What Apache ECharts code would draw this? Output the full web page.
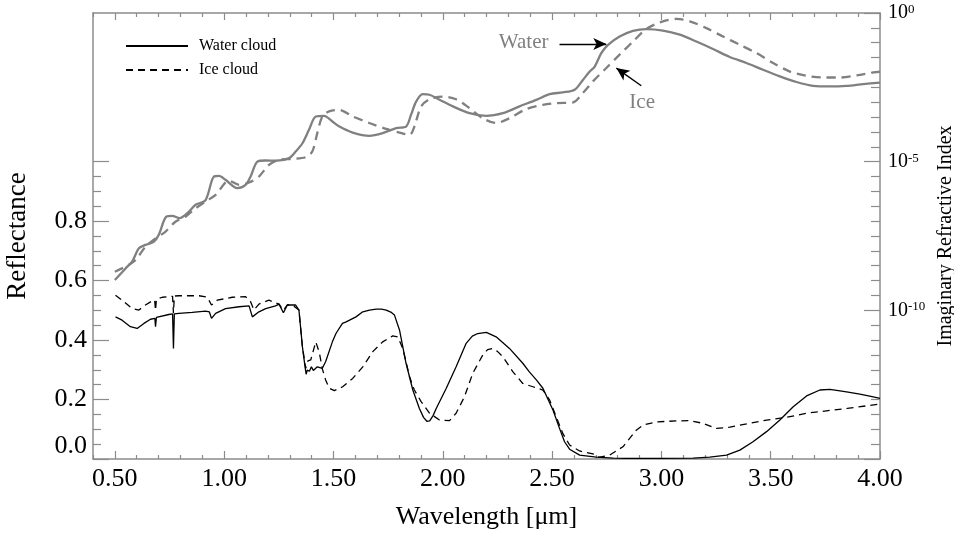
<!DOCTYPE html>
<html>
<head>
<meta charset="utf-8">
<script src="https://cdn.jsdelivr.net/npm/echarts@6/dist/echarts.min.js"></script>
<style>html,body{margin:0;padding:0;background:#fff;}#c{width:954px;height:533px;}</style>
</head>
<body>
<div id="c"></div>
<script>
// ---- Data ----
// Reflectance of a water cloud [wavelength µm, reflectance]
const waterCloudRefl = [[0.503,0.478],[0.533,0.467],[0.571,0.445],[0.602,0.439],[0.633,0.456],[0.663,0.470],[0.683,0.473],[0.686,0.445],[0.690,0.476],[0.747,0.486],[0.764,0.488],[0.768,0.372],[0.772,0.488],[0.793,0.490],[0.854,0.493],[0.915,0.497],[0.932,0.495],[0.942,0.473],[0.961,0.490],[1.006,0.506],[1.068,0.512],[1.114,0.515],[1.129,0.478],[1.159,0.495],[1.190,0.506],[1.235,0.515],[1.251,0.521],[1.271,0.492],[1.289,0.518],[1.327,0.518],[1.342,0.501],[1.358,0.377],[1.370,0.310],[1.375,0.285],[1.380,0.299],[1.390,0.295],[1.399,0.310],[1.408,0.298],[1.417,0.300],[1.426,0.310],[1.435,0.308],[1.449,0.305],[1.464,0.327],[1.495,0.394],[1.512,0.423],[1.541,0.456],[1.558,0.461],[1.603,0.478],[1.634,0.495],[1.665,0.501],[1.695,0.504],[1.720,0.504],[1.741,0.501],[1.765,0.493],[1.779,0.484],[1.802,0.434],[1.832,0.322],[1.863,0.232],[1.893,0.170],[1.912,0.140],[1.927,0.127],[1.940,0.128],[1.955,0.145],[1.970,0.170],[2.016,0.238],[2.061,0.310],[2.107,0.389],[2.135,0.413],[2.160,0.422],[2.199,0.426],[2.244,0.411],[2.305,0.372],[2.366,0.322],[2.396,0.293],[2.428,0.266],[2.458,0.238],[2.504,0.165],[2.534,0.103],[2.557,0.058],[2.580,0.033],[2.626,0.013],[2.702,0.006],[2.780,0.003],[2.840,0.002],[2.993,0.002],[3.145,0.003],[3.221,0.006],[3.298,0.013],[3.359,0.030],[3.419,0.058],[3.481,0.092],[3.542,0.131],[3.603,0.176],[3.664,0.212],[3.725,0.232],[3.771,0.234],[3.847,0.226],[3.908,0.218],[3.969,0.209],[4.000,0.204]];

// Reflectance of an ice cloud [wavelength µm, reflectance]
const iceCloudRefl = [[0.503,0.551],[0.541,0.529],[0.579,0.506],[0.610,0.501],[0.640,0.518],[0.671,0.532],[0.682,0.535],[0.686,0.500],[0.690,0.537],[0.717,0.544],[0.764,0.547],[0.768,0.490],[0.772,0.548],[0.793,0.549],[0.885,0.549],[0.923,0.544],[0.942,0.518],[0.968,0.534],[1.037,0.544],[1.098,0.546],[1.121,0.529],[1.136,0.501],[1.159,0.521],[1.205,0.534],[1.251,0.521],[1.271,0.500],[1.289,0.518],[1.312,0.518],[1.342,0.501],[1.358,0.377],[1.373,0.305],[1.383,0.330],[1.396,0.333],[1.419,0.394],[1.435,0.359],[1.449,0.303],[1.464,0.266],[1.481,0.238],[1.504,0.230],[1.542,0.243],[1.588,0.271],[1.634,0.310],[1.680,0.361],[1.725,0.394],[1.771,0.414],[1.794,0.411],[1.817,0.372],[1.848,0.277],[1.870,0.232],[1.901,0.193],[1.939,0.154],[1.985,0.131],[2.031,0.129],[2.061,0.154],[2.099,0.209],[2.137,0.288],[2.183,0.350],[2.205,0.368],[2.229,0.372],[2.250,0.362],[2.275,0.344],[2.321,0.293],[2.366,0.254],[2.412,0.243],[2.458,0.232],[2.489,0.198],[2.519,0.142],[2.549,0.086],[2.580,0.047],[2.626,0.027],[2.687,0.017],[2.717,0.006],[2.763,0.013],[2.824,0.041],[2.885,0.097],[2.916,0.114],[2.977,0.125],[3.069,0.128],[3.130,0.129],[3.190,0.120],[3.252,0.103],[3.313,0.107],[3.404,0.120],[3.481,0.131],[3.572,0.140],[3.664,0.154],[3.755,0.162],[3.850,0.170],[4.000,0.185]];

// Imaginary refractive index of water [wavelength µm, log10(k)]
const waterLogK = [[0.500,-8.98],[0.549,-8.59],[0.579,-8.36],[0.610,-7.91],[0.640,-7.80],[0.679,-7.69],[0.701,-7.46],[0.735,-6.85],[0.762,-6.82],[0.796,-6.90],[0.839,-6.68],[0.869,-6.45],[0.915,-6.29],[0.953,-5.50],[0.976,-5.48],[1.006,-5.61],[1.060,-5.89],[1.098,-5.78],[1.121,-5.50],[1.152,-5.00],[1.190,-4.96],[1.235,-4.97],[1.297,-4.88],[1.327,-4.66],[1.358,-4.38],[1.388,-3.93],[1.419,-3.48],[1.457,-3.46],[1.495,-3.65],[1.527,-3.82],[1.588,-4.02],[1.664,-4.13],[1.725,-4.04],[1.787,-3.87],[1.832,-3.82],[1.855,-3.42],[1.878,-2.98],[1.908,-2.73],[1.939,-2.75],[1.985,-2.92],[2.046,-3.14],[2.122,-3.37],[2.199,-3.46],[2.275,-3.37],[2.351,-3.14],[2.428,-2.92],[2.489,-2.73],[2.549,-2.67],[2.603,-2.58],[2.641,-2.25],[2.672,-1.97],[2.695,-1.80],[2.725,-1.35],[2.756,-1.07],[2.809,-0.79],[2.870,-0.60],[2.931,-0.54],[3.007,-0.59],[3.084,-0.73],[3.160,-0.96],[3.236,-1.21],[3.313,-1.48],[3.389,-1.68],[3.465,-1.91],[3.542,-2.13],[3.618,-2.32],[3.694,-2.45],[3.771,-2.47],[3.847,-2.45],[3.923,-2.39],[4.000,-2.34]];

// Imaginary refractive index of ice [wavelength µm, log10(k)]
const iceLogK = [[0.500,-8.70],[0.549,-8.53],[0.594,-8.31],[0.640,-7.86],[0.686,-7.58],[0.732,-7.35],[0.777,-7.02],[0.823,-6.85],[0.869,-6.57],[0.915,-6.34],[0.961,-6.12],[1.022,-5.64],[1.068,-5.78],[1.114,-5.70],[1.159,-5.50],[1.205,-5.11],[1.251,-4.94],[1.312,-4.91],[1.373,-4.85],[1.403,-4.66],[1.426,-4.04],[1.449,-3.48],[1.480,-3.31],[1.526,-3.26],[1.588,-3.48],[1.664,-3.70],[1.741,-3.90],[1.802,-4.02],[1.848,-4.10],[1.870,-3.82],[1.901,-3.14],[1.939,-2.90],[2.000,-2.81],[2.061,-2.90],[2.122,-3.20],[2.183,-3.54],[2.244,-3.70],[2.305,-3.54],[2.382,-3.23],[2.458,-3.09],[2.519,-3.03],[2.595,-3.01],[2.641,-2.69],[2.687,-2.30],[2.748,-1.85],[2.809,-1.40],[2.870,-0.96],[2.931,-0.54],[2.992,-0.32],[3.069,-0.20],[3.130,-0.28],[3.206,-0.51],[3.282,-0.79],[3.359,-1.07],[3.435,-1.35],[3.511,-1.68],[3.588,-1.97],[3.664,-2.11],[3.740,-2.17],[3.817,-2.17],[3.893,-2.10],[3.969,-2.00],[4.000,-1.97]];

// Tick values
const xMajorTicks = [0.5,1.0,1.5,2.0,2.5,3.0,3.5,4.0];
const xMinorTicks = [0.4,0.6,0.7,0.8,0.9,1.1,1.2,1.3,1.4,1.6,1.7,1.8,1.9,2.1,2.2,2.3,2.4,2.6,2.7,2.8,2.9,3.1,3.2,3.3,3.4,3.6,3.7,3.8,3.9];
const reflMajorTicks = [0,0.2,0.4,0.6,0.8,1.0];
const reflLabels = [0,0.2,0.4,0.6,0.8];
const reflMinorTicks = [0.05,0.1,0.15,0.25,0.3,0.35,0.45,0.5,0.55,0.65,0.7,0.75,0.85,0.9,0.95];
const kMajorExp = [0,-5,-10,-15];
const kLabelExp = [0,-5,-10];
const kMinorExp = [-0.5,-1,-1.5,-2,-2.5,-3,-3.5,-4,-4.5,-5.5,-6,-6.5,-7,-7.5,-8,-8.5,-9,-9.5,-10.5,-11,-11.5,-12,-12.5,-13,-13.5,-14,-14.5];

// Annotation anchors [wavelength, log10(k)]
const waterArrow = [[2.534,-1.044],[2.748,-1.044]];
const iceArrow = [[2.908,-2.448],[2.794,-1.852]];
const waterTextPos = [2.370,-0.99];
const iceTextPos = [2.912,-3.02];

// ---- Build ----
const p10 = e => Math.pow(10, e);
const toK = arr => arr.map(d => [d[0], p10(d[1])]);
const FONT = 'Liberation Serif';
const AX = '#8c8c8c';
const axLine = {show:true, lineStyle:{color:AX, width:1.5}};
const noLine = {show:false};

const chart = echarts.init(document.getElementById('c'), null, {renderer:'canvas'});
const xBase = {type:'value', min:0.4, max:4.0, splitLine:{show:false}};
const yR = {type:'value', min:0, max:1.5, splitLine:{show:false}};
const yK = {type:'log', logBase:10, min:1e-15, max:1, splitLine:{show:false}};

const option = {
  animation:false,
  backgroundColor:'#fff',
  grid:{left:93, right:74, top:13, bottom:74, containLabel:false, outerBoundsMode:'none'},
  legend:{
    data:['Water cloud','Ice cloud'],
    orient:'vertical', left:120, top:33,
    itemWidth:62, itemHeight:14, itemGap:8,
    itemStyle:{opacity:0},
    textStyle:{fontFamily:FONT, fontSize:16, color:'#000', padding:[0,0,0,6]}
  },
  xAxis:[
    Object.assign({}, xBase, {position:'bottom', axisLine:axLine,
      axisTick:{show:true, inside:true, length:8, customValues:xMajorTicks, lineStyle:{color:AX, width:1.2}},
      axisLabel:{show:true, customValues:xMajorTicks, formatter:v=>v.toFixed(2), margin:7, fontFamily:FONT, fontSize:26, color:'#000'},
      name:'Wavelength [\u03bcm]', nameLocation:'middle', nameGap:45,
      nameTextStyle:{fontFamily:FONT, fontSize:26, color:'#000'}}),
    Object.assign({}, xBase, {position:'bottom', axisLine:noLine,
      axisTick:{show:true, inside:true, length:4, customValues:xMinorTicks, lineStyle:{color:AX, width:1.2}},
      axisLabel:{show:false}}),
    Object.assign({}, xBase, {position:'top', axisLine:axLine,
      axisTick:{show:true, inside:true, length:7, customValues:xMajorTicks, lineStyle:{color:AX, width:1.2}},
      axisLabel:{show:false}}),
    Object.assign({}, xBase, {position:'top', axisLine:noLine,
      axisTick:{show:true, inside:true, length:4, customValues:xMinorTicks, lineStyle:{color:AX, width:1.2}},
      axisLabel:{show:false}})
  ],
  yAxis:[
    Object.assign({}, yR, {position:'left', axisLine:axLine,
      axisTick:{show:true, inside:true, length:16, customValues:reflMajorTicks, lineStyle:{color:AX, width:1.2}},
      axisLabel:{show:true, customValues:reflLabels, formatter:v=>v.toFixed(1), margin:6, fontFamily:FONT, fontSize:26, color:'#000', verticalAlignMinLabel:'bottom'},
      name:'Reflectance', nameLocation:'middle', nameGap:62,
      nameTextStyle:{fontFamily:FONT, fontSize:27, color:'#000'}}),
    Object.assign({}, yR, {position:'left', axisLine:noLine,
      axisTick:{show:true, inside:true, length:8, customValues:reflMinorTicks, lineStyle:{color:AX, width:1.2}},
      axisLabel:{show:false}}),
    Object.assign({}, yK, {position:'right', axisLine:axLine,
      axisTick:{show:true, inside:true, length:16, customValues:kMajorExp.map(p10), lineStyle:{color:AX, width:1.2}},
      axisLabel:{show:true, customValues:kLabelExp.map(p10), margin:8,
        formatter:v=>'{b|10}{s|' + Math.round(Math.log10(v)) + '}',
        rich:{b:{fontFamily:FONT, fontSize:20, color:'#000'}, s:{fontFamily:FONT, fontSize:13, color:'#000', verticalAlign:'top'}}},
      name:'Imaginary Refractive Index', nameLocation:'middle', nameGap:52, nameRotate:90,
      nameTextStyle:{fontFamily:FONT, fontSize:20, color:'#000'}}),
    Object.assign({}, yK, {position:'right', axisLine:noLine,
      axisTick:{show:true, inside:true, length:9, customValues:kMinorExp.map(p10), lineStyle:{color:AX, width:1.2}},
      axisLabel:{show:false}})
  ],
  series:[
    {name:'Water k', type:'line', xAxisIndex:0, yAxisIndex:2, data:toK(waterLogK), showSymbol:false, symbol:'none', smooth:0.3,
      lineStyle:{color:'#808080', width:2.3}, z:3,
      markLine:{silent:true, symbol:['none','arrow'], symbolSize:[9,13], label:{show:false},
        lineStyle:{color:'#000', width:1.4, type:'solid'},
        data:[
          [{coord:[waterArrow[0][0], p10(waterArrow[0][1])]},{coord:[waterArrow[1][0], p10(waterArrow[1][1])]}],
          [{coord:[iceArrow[0][0], p10(iceArrow[0][1])]},{coord:[iceArrow[1][0], p10(iceArrow[1][1])]}]
        ]},
      markPoint:{silent:true, symbol:'circle', symbolSize:0,
        label:{show:true, position:'inside', fontFamily:FONT, fontSize:21, color:'#808080'},
        data:[
          {coord:[waterTextPos[0], p10(waterTextPos[1])], value:'Water', label:{formatter:'Water'}},
          {coord:[iceTextPos[0], p10(iceTextPos[1])], value:'Ice', label:{formatter:'Ice'}}
        ]}
    },
    {name:'Ice k', type:'line', xAxisIndex:0, yAxisIndex:2, data:toK(iceLogK), showSymbol:false, symbol:'none', smooth:0.3,
      lineStyle:{color:'#808080', width:2.3, type:[9,6]}, z:3},
    {name:'Water cloud', type:'line', xAxisIndex:0, yAxisIndex:0, data:waterCloudRefl, showSymbol:false, symbol:'none',
      lineStyle:{color:'#000', width:1.3}, itemStyle:{color:'#000'}, z:4},
    {name:'Ice cloud', type:'line', xAxisIndex:0, yAxisIndex:0, data:iceCloudRefl, showSymbol:false, symbol:'none',
      lineStyle:{color:'#000', width:1.3, type:[7,5]}, itemStyle:{color:'#000'}, z:4}
  ]
};
chart.setOption(option);
</script>
</body>
</html>
